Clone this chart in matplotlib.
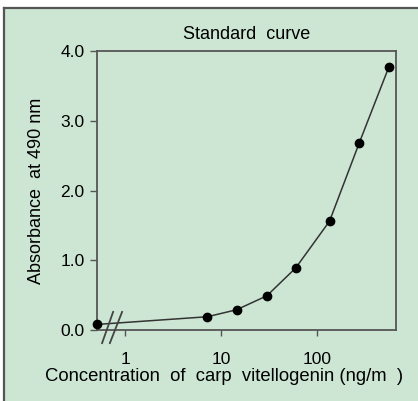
import numpy as np
import matplotlib.pyplot as plt
from matplotlib.patches import Rectangle
from matplotlib.lines import Line2D
from matplotlib.ticker import FixedLocator, NullLocator

plt.rcParams['font.family'] = ['Liberation Sans', 'DejaVu Sans']

# standard curve data (blank plotted at the left edge of the axis)
conc = [0.51, 7.2, 14.5, 30, 60, 135, 275, 560]
absorb = [0.08, 0.19, 0.29, 0.49, 0.89, 1.56, 2.68, 3.77]
yticks = [0.0, 1.0, 2.0, 3.0, 4.0]
xticks = [1, 10, 100]
xticklabels = ['1', '10', '100']

bg = '#cde6d4'
fig = plt.figure(figsize=(4.18, 4.01), dpi=100)
fig.patch.set_facecolor('white')

# green panel with gray border top and left
x0, y1 = 4 / 418, 1 - 8 / 401
fig.patches.append(Rectangle((x0, 0), 1 - x0, y1, transform=fig.transFigure,
                             facecolor=bg, edgecolor='none', zorder=-2))
fig.lines.append(Line2D([x0, 1], [y1, y1], transform=fig.transFigure, color='#555555', lw=1.6, zorder=-1))
fig.lines.append(Line2D([x0, x0], [0, y1], transform=fig.transFigure, color='#555555', lw=1.6, zorder=-1))

ax = fig.add_axes([97 / 418, 1 - 330 / 401, 299 / 418, 279 / 401])
ax.set_facecolor(bg)
ax.set_zorder(1)
ax.set_xscale('log')
ax.set_xlim(0.51, 665)
ax.set_ylim(0, 4.0)

ax.plot(conc, absorb, color='#333333', lw=1.1, marker='o', ms=6,
        mfc='black', mec='black', clip_on=False, zorder=5)

ax.xaxis.set_major_locator(FixedLocator(xticks))
ax.xaxis.set_minor_locator(NullLocator())
ax.set_xticklabels(xticklabels)
ax.set_yticks(yticks)
ax.set_yticklabels(['%.1f' % v for v in yticks])
ax.tick_params(axis='both', direction='out', width=1.0, color='#555555', labelsize=12.5)
ax.tick_params(axis='x', length=4, pad=12)
ax.tick_params(axis='y', length=5, pad=4)

for s in ax.spines.values():
    s.set_color('#555555')
    s.set_linewidth(1.3)

# axis break marks
for xa, xb in [(0.017, 0.054), (0.043, 0.084)]:
    ax.plot([xa, xb], [-0.047, 0.065], transform=ax.transAxes, color='#444444',
            lw=1.3, clip_on=False, zorder=6)

ax.set_title('Standard  curve', fontsize=13, pad=8.6)
ax.set_xlabel('Concentration  of  carp  vitellogenin (ng/m  )', fontsize=13.3)
ax.xaxis.set_label_coords(0.425, -0.135)
ax.set_ylabel('Absorbance  at 490 nm', fontsize=13, labelpad=11)

fig.savefig('out.png', dpi=100, facecolor='white')
